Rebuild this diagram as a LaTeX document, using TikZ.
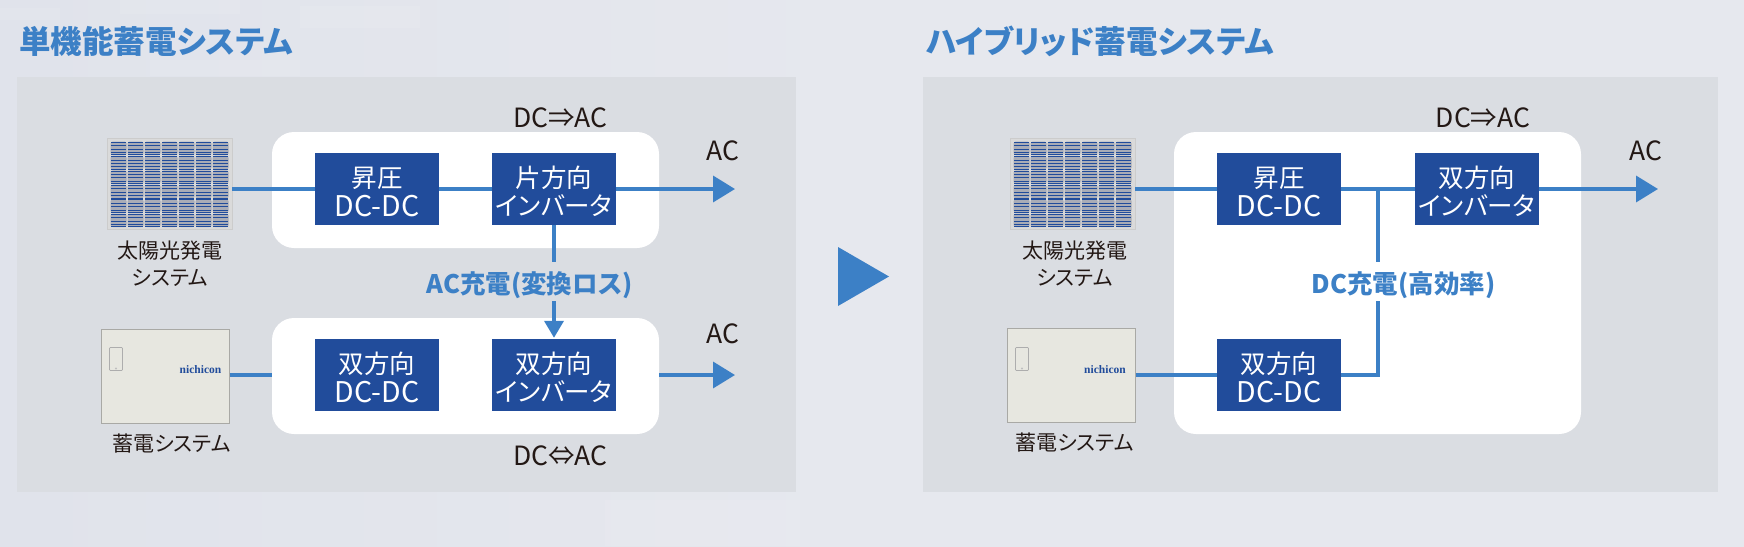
\documentclass[tikz,border=0pt]{standalone}
\usepackage{fontspec}
\usetikzlibrary{arrows.meta,shapes.geometric,calc}
\setmainfont{Noto Sans CJK JP}[RawFeature=+palt]
\newfontfamily\logofont{Liberation Serif}[Scale=1]
\newcommand{\dcdc}{{\fontsize{28.5}{28}\selectfont DC-DC}}
\newcommand{\topstrut}{\rule{0pt}{26pt}}
\definecolor{bgA}{HTML}{E0E3EB}
\definecolor{bgB}{HTML}{E6E8EE}
\definecolor{panelc}{HTML}{DADDE2}
\definecolor{boxc}{HTML}{214C9B}
\definecolor{linec}{HTML}{3C80C6}
\definecolor{inkc}{HTML}{231815}
\definecolor{cellc}{HTML}{A9ACB6}
\definecolor{frame}{HTML}{DADADA}
\definecolor{storefill}{HTML}{E7E7E0}
\definecolor{storl}{HTML}{A9A9A5}
\tikzset{
  x=1pt,y=-1pt,
  panelbox/.style={fill=panelc,draw=none,inner sep=0pt,minimum width=#1,minimum height=415pt},
  whitebox/.style n args={2}{fill=white,draw=none,rounded corners=22pt,inner sep=0pt,minimum width=#1,minimum height=#2},
  blockbox/.style={fill=boxc,text=white,draw=none,inner sep=0pt,minimum width=124pt,minimum height=72pt,align=center,
    font=\fontsize{25.5}{28.5}\selectfont},
  wire/.style={draw=linec,line width=3.6pt},
  wirearrow/.style={wire,-{Triangle[length=22pt,width=26pt]}},
  downarrow/.style={wire,-{Triangle[length=17pt,width=19pt]}},
  titletext/.style={text=linec,font=\fontsize{31.5}{34}\selectfont\bfseries,anchor=west,inner sep=0pt},
  blabel/.style={text=linec,font=\fontsize{25.5}{28}\selectfont\bfseries,inner sep=0pt,minimum height=39pt,fill=none},
  txt/.style={text=inkc,font=\fontsize{26.5}{28}\selectfont,inner sep=0pt},
  captext/.style={text=inkc,font=\fontsize{21}{27}\selectfont,inner sep=0pt,align=center},
  pvbox/.style={fill=frame,draw=black!20,line width=0.8pt,inner sep=0pt,minimum width=125pt,minimum height=91pt},
  storebox/.style={fill=storefill,draw=storl,line width=1pt,inner sep=0pt,minimum width=128pt,minimum height=94pt},
  logotext/.style={text=boxc,font=\logofont\fontsize{11.5}{12}\selectfont\bfseries,inner sep=0pt},
  pvcells/.pic={
    \foreach \cx in {0,...,6}{
      \foreach \cy in {0,...,5}{
        \fill[cellc,rounded corners=2.5pt] (\cx*17,\cy*14.4) rectangle ++(16.2,13.6);
        \foreach \ly in {0.6,4,7.4,10.8,13.2}{
          \draw[boxc,line width=0.7pt] (\cx*17+0.6,\cy*14.4+\ly) -- ++(15,0);
        }
      }
    }
  },
  storedoor/.pic={
    \draw[black!32,line width=0.7pt,rounded corners=0.8pt,fill=storefill] (0,0) rectangle (13,23);
    \fill[black!25] (6.5,21) circle (1.2pt);
  }
}
\begin{document}
\begin{tikzpicture}
\useasboundingbox (0,0) rectangle (1744,546);
\shade[left color=bgA,right color=bgB,middle color=bgB] (0,0) rectangle (1744,546);
\fill[white,opacity=0.08] (120,0) rectangle (240,14);
\fill[white,opacity=0.08] (150,60) rectangle (300,76);
\fill[white,opacity=0.08] (300,6) rectangle (420,28);
\fill[white,opacity=0.08] (0,8) rectangle (60,20);
\fill[white,opacity=0.08] (605,500) rectangle (800,546);

% panels
\node[panelbox=779pt] (panelL) at (406.5,284.5) {};
\node[panelbox=795pt] (panelR) at (1320.5,284.5) {};

% titles
\node[titletext] (titleL) at (19,41.5) {単機能蓄電システム};
\node[titletext] (titleR) at (926,41.5) {ハイブリッド蓄電システム};

% white groups
\node[whitebox={387pt}{116pt}] (wLt) at (465.5,190) {};
\node[whitebox={387pt}{116pt}] (wLb) at (465.5,376) {};
\node[whitebox={407pt}{302pt}] (wR) at (1377.5,283) {};

% devices
\node[pvbox] (pvL) at (169.5,183.5) {};
\pic at (110.5,141.5) {pvcells};
\node[storebox] (stL) at (165,376) {};
\pic at (109.5,347.5) {storedoor};
\node[logotext] (logoL) at (200.5,370) {nichicon};
\node[pvbox] (pvR) at (1072.5,183.5) {};
\pic at (1013.5,141.5) {pvcells};
\node[storebox] (stR) at (1071,375.5) {};
\pic at (1015.5,347.5) {storedoor};
\node[logotext] (logoR) at (1105,370) {nichicon};

% blocks
\node[blockbox] (a1) at (377,189) {\topstrut 昇圧\\\dcdc};
\node[blockbox] (a2) at (554,189) {\topstrut 片方向\\インバータ};
\node[blockbox] (a3) at (377,375) {\topstrut 双方向\\\dcdc};
\node[blockbox] (a4) at (554,375) {\topstrut 双方向\\インバータ};
\node[blockbox] (b1) at (1279,189) {\topstrut 昇圧\\\dcdc};
\node[blockbox] (b2) at (1477,189) {\topstrut 双方向\\インバータ};
\node[blockbox] (b3) at (1279,375) {\topstrut 双方向\\\dcdc};

% labels
\node[blabel] (lab1) at (529.5,281.5) {\raisebox{-11.8pt}[0pt][0pt]{AC充電(変換ロス)}};
\node[blabel] (lab2) at (1403.5,281.5) {\raisebox{-11.8pt}[0pt][0pt]{DC充電(高効率)}};
\node[txt] (t1) at (560.5,118) {DC⇒AC};
\node[txt] (t2) at (560.5,456) {DC⇔AC};
\node[txt] (t3) at (1483,118) {DC⇒AC};
\node[txt] (acL1) at (723,151) {AC};
\node[txt] (acL2) at (723,334) {AC};
\node[txt] (acR) at (1646,151) {AC};
\node[captext] (cap1) at (170,264) {太陽光発電\\システム};
\node[captext] (cap2) at (171.5,444) {蓄電システム};
\node[captext] (cap3) at (1074.5,264) {太陽光発電\\システム};
\node[captext] (cap4) at (1074.5,443) {蓄電システム};

% free ends and bends
\coordinate (endA) at (735,189);
\coordinate (endB) at (735,375);
\coordinate (endC) at (1658,189);
\coordinate (jn) at (1378,189);
\coordinate (jb) at (1378,375);

% connectors, left
\draw[wire] (pvL.east |- a1) -- (a1.west);
\draw[wire] (a1.east) -- (a2.west);
\draw[wirearrow] (a2.east) -- (endA);
\draw[wire] (stL.east |- a3) -- (wLb.west |- a3);
\draw[wirearrow] (wLb.east |- a4) -- (endB);
\draw[wire] (a2.south) -- (a2.south |- lab1.north);
\draw[downarrow] (a2.south |- lab1.south) -- ($(a4.north)+(0,-1)$);

% connectors, right
\draw[wire] (pvR.east |- b1) -- (b1.west);
\draw[wire] (b1.east) -- (b2.west);
\draw[wirearrow] (b2.east) -- (endC);
\draw[wire] (stR.east |- b3) -- (b3.west);
\draw[wire] (jn) -- (jn |- lab2.north);
\draw[wire,line join=miter] (jn |- lab2.south) -- (jb) -- (b3.east);

% big arrow
\fill[linec] (838,247) -- (889,276.5) -- (838,306) -- cycle;
\end{tikzpicture}
\end{document}
